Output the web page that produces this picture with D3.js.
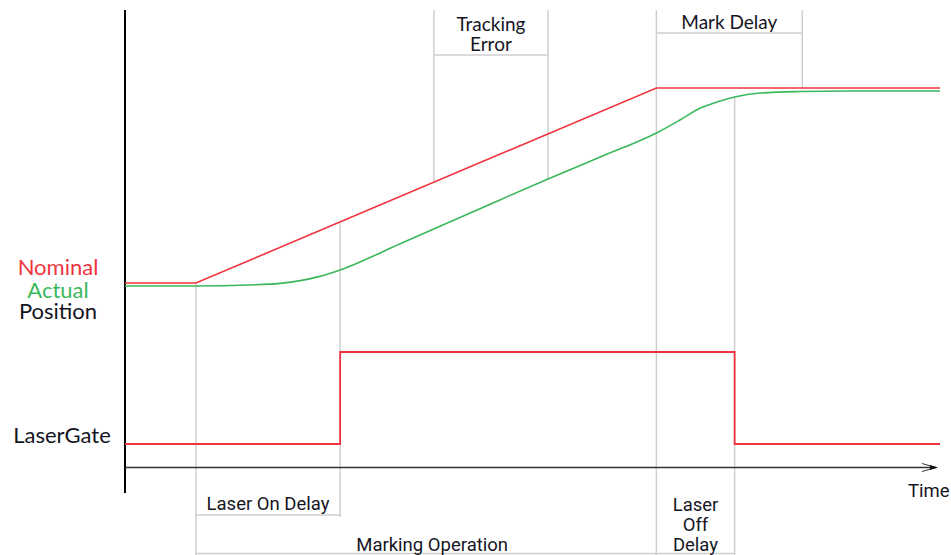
<!DOCTYPE html>
<html>
<head>
<meta charset="utf-8">
<script src="https://cdn.jsdelivr.net/npm/d3@7"></script>
<style>
  html, body { margin: 0; padding: 0; background: #fff; }
  svg { display: block; }
</style>
</head>
<body>
<svg id="chart" width="951" height="555"></svg>
<script>
// ---- Data (time in arbitrary units 0..100, position normalised 0..1) ----
const nominalT   = [0, 8.7, 65.2, 100];
const nominalPos = [0, 0, 1, 1];

const actualT   = [0, 8.7, 15.3, 19.0, 21.5, 23.9, 26.4, 33.7, 46.0, 51.9, 58.3, 65.2, 68.1, 70.6, 73.0, 74.8, 77.9, 82.8, 89.0, 100];
const actualPos = [-0.015, -0.015, -0.010, -0.002, 0.012, 0.034, 0.067, 0.200, 0.426, 0.533, 0.646, 0.769, 0.836, 0.897, 0.933, 0.954, 0.974, 0.982, 0.985, 0.985];

const gateT     = [0, 26.4, 26.4, 74.8, 74.8, 100];
const gateLevel = [0, 0, 1, 1, 0, 0];

// key event times
const tMoveStart = 8.7, tLaserOn = 26.4, tTrackA = 37.9, tTrackB = 51.9,
      tMoveEnd = 65.2, tLaserOff = 74.8, tMarkDelayEnd = 83.1;

const rowLabels = ["Nominal", "Actual", "Position", "LaserGate"];
const annotationLabels = {
  tracking: ["Tracking", "Error"],
  markDelay: ["Mark Delay"],
  laserOn: ["Laser On Delay"],
  marking: ["Marking Operation"],
  laserOff: ["Laser", "Off", "Delay"],
  time: "Time"
};

// ---- Layout ----
const RED = "#f0343f", GREEN = "#3cb85c", GRAY = "#cfcfcf", TEXT = "#15151f";
const svg = d3.select("#chart");

const x = d3.scaleLinear().domain([0, 100]).range([125, 940]);
const yPos = d3.scaleLinear().domain([0, 1]).range([283, 88]);
const yGate = d3.scaleLinear().domain([0, 1]).range([444, 352]);

const nominal = nominalT.map((t, i) => [t, nominalPos[i]]);
const actual = actualT.map((t, i) => [t, actualPos[i]]);
const gate = gateT.map((t, i) => [t, gateLevel[i]]);

const nomAt = t => yPos(d3.scaleLinear().domain(nominalT.slice(1,3)).range(nominalPos.slice(1,3)).clamp(true)(t));
const actAt = t => { const i = d3.bisectLeft(actualT, t); const a = actual[Math.max(i-1,0)], b = actual[i];
  return yPos(a[1] + (b[1]-a[1]) * (t - a[0]) / (b[0] - a[0] || 1)); };

// ---- Gray annotation lines ----
const g = svg.append("g").attr("stroke", GRAY).attr("stroke-width", 1.5).attr("fill", "none");
const vlines = [
  [tMoveStart, nomAt(tMoveStart), 555],
  [tLaserOn, nomAt(tLaserOn), 517],
  [tTrackA, 10, nomAt(tTrackA)],
  [tTrackB, 10, actAt(tTrackB)],
  [tMoveEnd, 10, 555],
  [tLaserOff, actAt(tLaserOff), 555],
  [tMarkDelayEnd, 10, nomAt(tMarkDelayEnd)]
];
vlines.forEach(([t, y0, y1]) => g.append("line").attr("x1", x(t)).attr("x2", x(t)).attr("y1", y0).attr("y2", y1));
const hlines = [
  [tTrackA, tTrackB, 55],
  [tMoveEnd, tMarkDelayEnd, 33],
  [tMoveStart, tLaserOn, 515],
  [tMoveStart, tMoveEnd, 553.5],
  [tMoveEnd, tLaserOff, 553.5]
];
hlines.forEach(([a, b, y]) => g.append("line").attr("x1", x(a)).attr("x2", x(b)).attr("y1", y).attr("y2", y));

// ---- Axes ----
svg.append("line").attr("x1", x(0)).attr("x2", x(0)).attr("y1", 10).attr("y2", 493)
  .attr("stroke", "#000").attr("stroke-width", 2);

const timeAxis = d3.axisBottom(x).ticks(0).tickSizeOuter(0);
const ta = svg.append("g").attr("transform", "translate(0,467.5)").call(timeAxis);
ta.select(".domain").attr("stroke", "#333").attr("stroke-width", 1.5).attr("d", `M${x(0)},0H${x(100)-6}`);
// arrow head
ta.append("path").attr("d", `M${x(100)-18},-4 L${x(100)-4},0 L${x(100)-18},4`).attr("fill", "none").attr("stroke", "#333").attr("stroke-width", 1);
ta.append("path").attr("d", `M${x(100)-10},-2.5 L${x(100)-2},0 L${x(100)-10},2.5 Z`).attr("fill", "#111");
svg.append("text").attr("x", 908).attr("y", 497).text(annotationLabels.time)
  .attr("font-family", "Roboto, sans-serif").attr("font-size", 18.5).attr("fill", TEXT);

// ---- Signals ----
const line = d3.line().x(d => x(d[0])).y(d => yPos(d[1]));
svg.append("path").datum(actual).attr("d", line.curve(d3.curveMonotoneX))
  .attr("fill", "none").attr("stroke", GREEN).attr("stroke-width", 1.6);
svg.append("path").datum(nominal).attr("d", d3.line().x(d => x(d[0])).y(d => yPos(d[1])))
  .attr("fill", "none").attr("stroke", RED).attr("stroke-width", 1.6);
svg.append("path").datum(gate).attr("d", d3.line().x(d => x(d[0])).y(d => yGate(d[1])))
  .attr("fill", "none").attr("stroke", RED).attr("stroke-width", 1.8);

// ---- Labels ----
const lab = (txt, cx, y, color, family, size) => svg.append("text").attr("x", cx).attr("y", y)
  .attr("text-anchor", "middle").attr("font-family", family).attr("font-size", size)
  .attr("fill", color).text(txt);
lab(rowLabels[0], 58, 275, RED, "Lato, sans-serif", 22);
lab(rowLabels[1], 58, 298, GREEN, "Lato, sans-serif", 22);
lab(rowLabels[2], 58, 319, TEXT, "Lato, sans-serif", 22);
lab(rowLabels[3], 62, 443, TEXT, "Lato, sans-serif", 22);

const midX = (a, b) => (x(a) + x(b)) / 2;
annotationLabels.tracking.forEach((t, i) => lab(t, midX(tTrackA, tTrackB), 31 + i * 20, TEXT, "Lato, sans-serif", 19));
annotationLabels.markDelay.forEach((t, i) => lab(t, midX(tMoveEnd, tMarkDelayEnd), 29 + i * 20, TEXT, "Lato, sans-serif", 19));
annotationLabels.laserOn.forEach((t, i) => lab(t, midX(tMoveStart, tLaserOn), 510, TEXT, "Roboto, sans-serif", 18.5));
annotationLabels.marking.forEach((t, i) => lab(t, midX(tMoveStart, tMoveEnd) + 6, 551, TEXT, "Roboto, sans-serif", 18.5));
annotationLabels.laserOff.forEach((t, i) => lab(t, midX(tMoveEnd, tLaserOff), 511 + i * 20, TEXT, "Roboto, sans-serif", 18.5));
</script>
</body>
</html>
